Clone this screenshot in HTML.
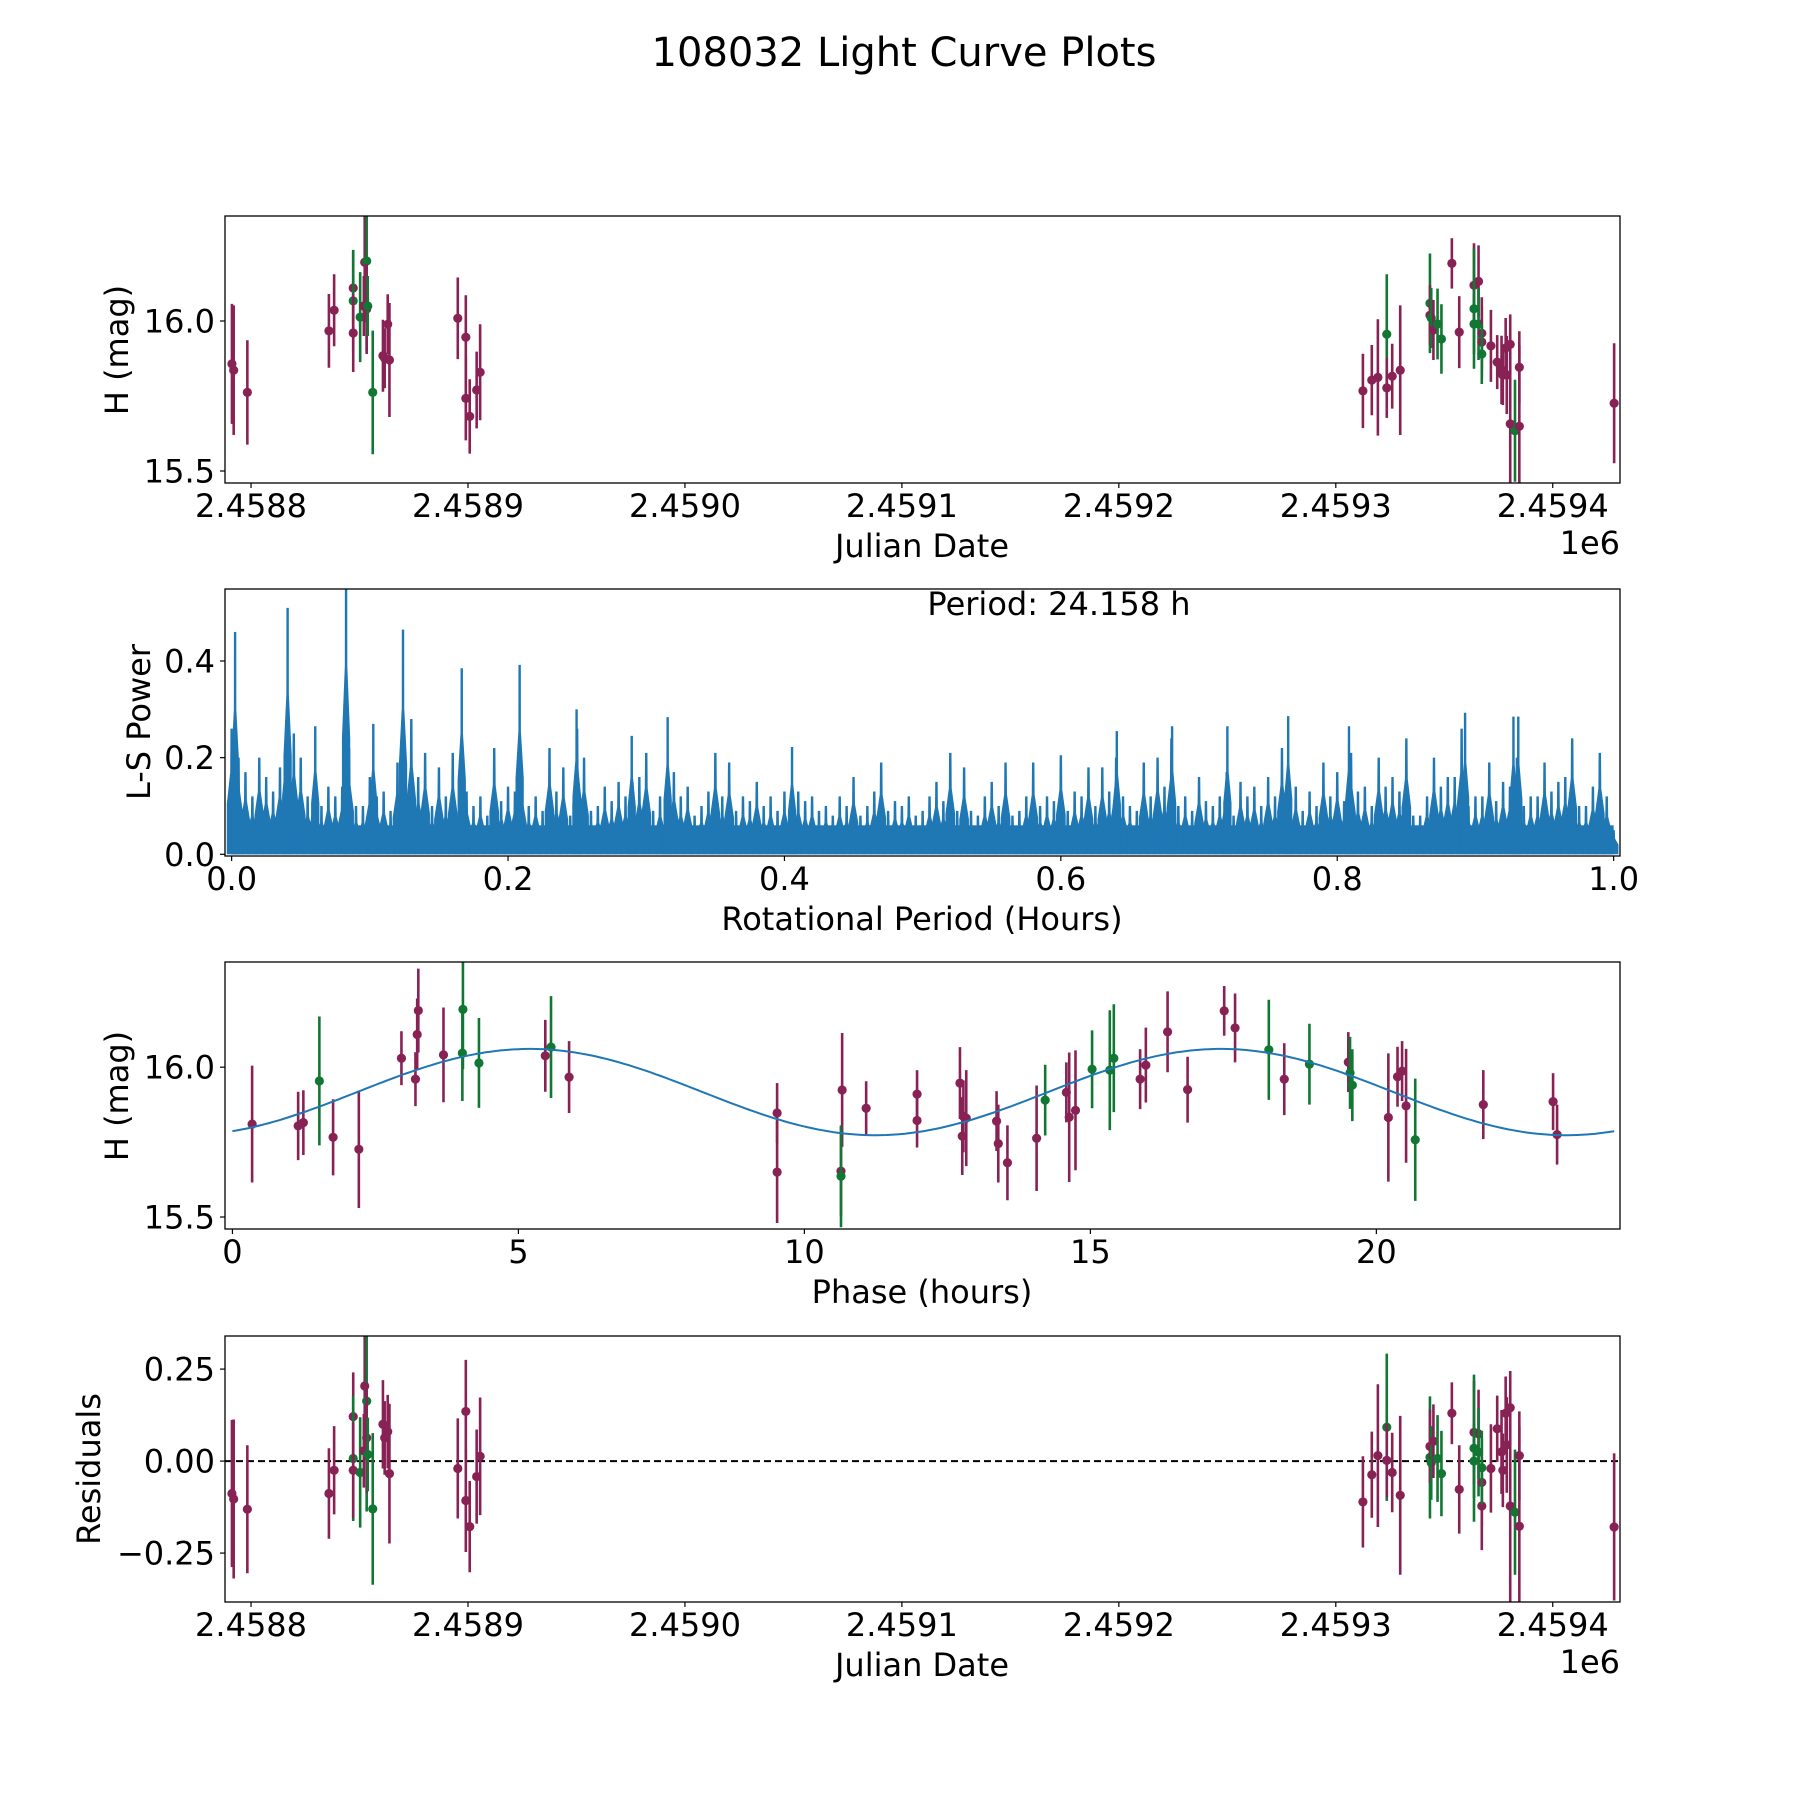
<!DOCTYPE html>
<html><head><meta charset="utf-8"><title>108032 Light Curve Plots</title>
<style>
html,body{margin:0;padding:0;background:#fff;}
svg{display:block;font-family:"DejaVu Sans","Liberation Sans",sans-serif;}
</style></head>
<body>
<svg id="fig" width="1800" height="1800" viewBox="0 0 1800 1800" xmlns="http://www.w3.org/2000/svg">
<rect x="0" y="0" width="1800" height="1800" fill="#fff"/>
<text x="904" y="66" font-size="40" text-anchor="middle" fill="#000">108032 Light Curve Plots</text>
</svg>
<script>
// ---------- data ----------
const jd = [2458791.2,2458792.0,2458798.3,2458835.9,2458838.3,2458847.1,2458847.1,2458847.1,2458850.3,2458852.4,2458853.3,2458852.0,2458853.3,2458853.8,2458856.1,2458860.8,2458861.6,2458863.0,2458863.8,2458895.3,2458899.0,2458899.0,2458900.8,2458904.0,2458905.6,2459312.5,2459316.6,2459319.4,2459323.5,2459323.5,2459326.0,2459329.7,2459343.4,2459343.4,2459344.0,2459345.0,2459346.9,2459348.7,2459353.5,2459356.9,2459363.7,2459365.8,2459363.7,2459363.7,2459365.8,2459367.3,2459367.3,2459367.3,2459371.5,2459374.4,2459376.4,2459377.0,2459378.3,2459378.8,2459380.4,2459380.4,2459382.6,2459384.6,2459384.6,2459428.3];
const mag = [15.857,15.836,15.762,15.967,16.036,16.11,16.067,15.96,16.013,16.196,16.2,16.05,16.04,16.05,15.762,15.884,15.876,15.989,15.87,16.009,15.946,15.742,15.682,15.77,15.829,15.767,15.803,15.812,15.956,15.777,15.816,15.836,16.059,16.019,16.01,15.97,15.99,15.94,16.192,15.963,16.119,16.132,16.041,15.99,15.99,15.959,15.93,15.89,15.917,15.863,15.837,15.82,15.91,15.82,15.922,15.657,15.634,15.649,15.846,15.726];
const magErr = [0.20,0.216,0.174,0.123,0.12,0.12,0.17,0.13,0.15,0.2,0.3,0.1,0.15,0.1,0.206,0.12,0.1,0.1,0.19,0.136,0.14,0.14,0.124,0.128,0.16,0.124,0.117,0.194,0.2,0.1,0.108,0.216,0.166,0.1,0.1,0.1,0.118,0.116,0.084,0.12,0.14,0.12,0.2,0.1,0.12,0.12,0.12,0.1,0.12,0.09,0.114,0.1,0.1,0.13,0.1,0.3,0.17,0.27,0.12,0.2];
const band = ['m','m','m','m','m','m','g','m','g','m','g','m','m','g','g','m','m','m','m','m','m','m','m','m','m','m','m','m','g','m','m','m','g','m','g','m','g','g','m','m','m','m','g','g','g','m','m','g','m','m','m','m','m','m','m','m','g','m','m','m'];
const residual = [-0.088,-0.103,-0.131,-0.088,-0.025,0.121,0.007,-0.025,-0.031,0.204,0.163,0.028,0.063,0.018,-0.13,0.10,0.063,0.080,-0.034,-0.020,0.135,-0.107,-0.178,-0.042,0.013,-0.111,-0.037,0.015,0.092,0.002,-0.031,-0.093,0.01,0.04,-0.005,0.054,0.007,-0.034,0.130,-0.077,0.078,0.074,0.035,0.0,0.024,-0.058,-0.122,-0.018,-0.02,0.088,0.025,-0.025,0.13,0.044,0.145,-0.122,-0.139,-0.177,0.015,-0.179];

const phase = [0.344,1.149,1.24,1.52,1.76,2.21,2.955,3.2,3.23,3.25,3.69,4.03,4.02,4.31,5.47,5.57,5.886,9.523,9.523,10.66,10.64,10.64,11.08,11.97,11.97,12.72,12.76,12.83,12.78,13.36,13.39,13.55,14.06,14.21,14.58,14.63,14.74,15.03,15.34,15.41,15.87,15.97,16.35,16.70,17.34,17.53,18.12,18.39,18.83,19.51,19.54,19.58,20.21,20.37,20.45,20.52,20.68,21.87,23.09,23.16];
const phaseMag = [15.81,15.804,15.815,15.954,15.766,15.726,16.03,15.96,16.109,16.189,16.041,16.193,16.047,16.014,16.038,16.067,15.967,15.847,15.65,15.924,15.653,15.636,15.863,15.91,15.822,15.947,15.77,15.83,15.836,15.82,15.745,15.681,15.763,15.89,15.916,15.833,15.856,15.993,15.99,16.03,15.96,16.007,16.118,15.925,16.188,16.131,16.058,15.96,16.01,16.017,15.981,15.94,15.832,15.968,15.987,15.871,15.758,15.875,15.885,15.775];
const phaseErr = [0.195,0.114,0.108,0.215,0.127,0.196,0.09,0.09,0.12,0.14,0.158,0.2,0.16,0.15,0.12,0.17,0.12,0.1,0.17,0.19,0.15,0.17,0.09,0.08,0.09,0.12,0.13,0.16,0.12,0.1,0.13,0.125,0.176,0.118,0.1,0.216,0.2,0.13,0.2,0.18,0.1,0.125,0.135,0.11,0.083,0.115,0.167,0.12,0.135,0.1,0.12,0.12,0.214,0.1,0.1,0.19,0.204,0.115,0.095,0.1];
const phaseBand = ['m','m','m','g','m','m','m','m','m','m','m','g','g','g','m','g','m','m','m','m','m','g','m','m','m','m','m','m','m','m','m','m','m','g','m','m','m','g','g','g','m','m','m','m','m','m','g','m','g','m','g','g','m','m','m','m','g','m','m','m'];
const modelMean = 15.917, modelAmp = 0.144, modelPeak = 5.2, modelHalfPeriod = 12.079, periodHours = 24.158;

const lsBinMax = [0.26,0.17,0.20,0.13,0.30,0.20,0.15,0.14,0.14,0.10,0.16,0.13,0.19,0.28,0.21,0.18,0.21,0.13,0.12,0.22,0.14,0.16,0.12,0.22,0.18,0.26,0.09,0.14,0.15,0.15,0.21,0.12,0.17,0.14,0.10,0.21,0.19,0.12,0.15,0.12,0.13,0.13,0.12,0.10,0.12,0.16,0.10,0.19,0.11,0.12,0.09,0.15,0.21,0.18,0.08,0.15,0.19,0.09,0.19,0.12,0.205,0.13,0.18,0.18,0.20,0.10,0.19,0.20,0.24,0.12,0.16,0.10,0.17,0.15,0.14,0.16,0.22,0.14,0.13,0.19,0.17,0.21,0.14,0.20,0.16,0.24,0.08,0.20,0.16,0.26,0.12,0.19,0.15,0.20,0.12,0.19,0.15,0.24,0.10,0.21,0.05];
const lsBinMid = [0.20,0.12,0.16,0.18,0.25,0.12,0.10,0.12,0.22,0.10,0.12,0.09,0.14,0.16,0.10,0.12,0.13,0.10,0.08,0.11,0.13,0.10,0.09,0.13,0.08,0.20,0.10,0.11,0.12,0.16,0.09,0.11,0.12,0.08,0.13,0.12,0.09,0.11,0.10,0.09,0.10,0.11,0.09,0.08,0.10,0.08,0.13,0.09,0.10,0.08,0.12,0.11,0.09,0.09,0.12,0.10,0.08,0.12,0.10,0.11,0.09,0.12,0.10,0.13,0.12,0.09,0.12,0.14,0.10,0.09,0.11,0.12,0.08,0.12,0.10,0.12,0.11,0.09,0.10,0.12,0.11,0.13,0.10,0.14,0.13,0.08,0.12,0.14,0.16,0.10,0.12,0.11,0.14,0.10,0.12,0.13,0.16,0.10,0.14,0.12];
const spikeFreq = [0.0025,0.0405,0.0828,0.1240,0.1665,0.2084,0.2496,0.1025,0.0605,0.3155,0.2895,0.6405,0.7645,0.8925,0.9310,0.9275,0.7205,0.6805,0.8085,0.4055];
const spikePower = [0.46,0.51,0.60,0.465,0.385,0.392,0.30,0.27,0.265,0.284,0.245,0.255,0.286,0.293,0.285,0.285,0.265,0.265,0.265,0.222];

// ---------- helpers ----------
const NS = 'http://www.w3.org/2000/svg';
const svg = document.getElementById('fig');
const COL = {m:'#882255', g:'#117733'};
function mk(tag, attrs, parent){
  const e = document.createElementNS(NS, tag);
  for (const k in attrs) e.setAttribute(k, attrs[k]);
  (parent||svg).appendChild(e);
  return e;
}
function lin(d0,d1,r0,r1){ return v => r0 + (v-d0)*(r1-r0)/(d1-d0); }
const L = 225, R = 1620;

function axesFrame(top, bottom, name, clipId){
  const g = mk('g', {});
  
  
  const cp = mk('clipPath', {id: clipId}, g);
  mk('rect', {x:L, y:top, width:R-L, height:bottom-top}, cp);
  return g;
}
function border(g, top, bottom){
  const r = mk('rect', {x:L, y:top, width:R-L, height:bottom-top, fill:'none', stroke:'#000', 'stroke-width':1.3}, g);
  
  
}
function xTicks(g, bottom, vals, labels, sx){
  vals.forEach((v,i)=>{
    const x = sx(v);
    mk('line', {x1:x, x2:x, y1:bottom, y2:bottom+5, stroke:'#000', 'stroke-width':1.2}, g);
    const t = mk('text', {x:x, y:bottom+34, 'font-size':32, 'text-anchor':'middle'}, g);
    t.textContent = labels[i];
    
    
  });
}
function yTicks(g, vals, labels, sy){
  vals.forEach((v,i)=>{
    const y = sy(v);
    mk('line', {x1:L-5, x2:L, y1:y, y2:y, stroke:'#000', 'stroke-width':1.2}, g);
    const t = mk('text', {x:L-10, y:y+11.5, 'font-size':32, 'text-anchor':'end'}, g);
    t.textContent = labels[i];
    
    
  });
}
function label(g, x, y, txt, name, rot){
  const t = mk('text', {x:x, y:y, 'font-size':32, 'text-anchor':'middle'}, g);
  if (rot) t.setAttribute('transform', 'rotate(-90 '+x+' '+y+')');
  t.textContent = txt;
  
  
  return t;
}
function errPoints(g, xs, ys, es, bands, sx, sy, clipId, name){
  const pg = mk('g', {'clip-path':'url(#'+clipId+')'}, g);
  for (let i=0;i<xs.length;i++){
    const x = sx(xs[i]), c = COL[bands[i]];
    const pt = mk('g', {}, pg);
    
    
    mk('line', {x1:x, x2:x, y1:sy(ys[i]+es[i]), y2:sy(ys[i]-es[i]), stroke:c, 'stroke-width':2.6}, pt);
    mk('circle', {cx:x, cy:sy(ys[i]), r:4.6, fill:c}, pt);
  }
}

// ---------- panel 1: light curve ----------
(function(){
  const top=216, bottom=483;
  const sx = lin(2458788.0, 2459431.0, L, R);
  const sy = lin(15.46, 16.35, bottom, top);
  const g = axesFrame(top, bottom, 'light-curve-panel', 'clip1');
  errPoints(g, jd, mag, magErr, band, sx, sy, 'clip1', 'lc-point');
  border(g, top, bottom);
  xTicks(g, bottom, [2458800,2458900,2459000,2459100,2459200,2459300,2459400], ['2.4588','2.4589','2.4590','2.4591','2.4592','2.4593','2.4594'], sx);
  yTicks(g, [15.5,16.0], ['15.5','16.0'], sy);
  label(g, 922, 557, 'Julian Date', 'x-axis-title');
  const o = mk('text', {x:R, y:554, 'font-size':32, 'text-anchor':'end'}, g);
  o.textContent = '1e6';
  
  
  label(g, 128, 350, 'H (mag)', 'y-axis-title', true);
})();

// ---------- panel 2: periodogram ----------
(function(){
  const top=589, bottom=856;
  const sx = lin(-0.0048, 1.0046, L, R);
  const sy = lin(-0.0035, 0.549, bottom, top);
  const g = axesFrame(top, bottom, 'periodogram-panel', 'clip2');
  const pg = mk('g', {'clip-path':'url(#clip2)', fill:'#1f77b4'}, g);
  
  
  // dense floor
  mk('rect', {x:sx(0), y:sy(0.06), width:sx(1)-sx(0), height:sy(0)-sy(0.06)}, pg);
  function tri(f, p, w){
    const d = 'M'+sx(f-w)+','+sy(0)+' L'+sx(f-w)+','+sy(p*0.4)+' L'+sx(f-w*0.3)+','+sy(p*0.65)+' L'+(sx(f)-1.2)+','+sy(p)+' L'+(sx(f)+1.2)+','+sy(p)+' L'+sx(f+w*0.3)+','+sy(p*0.65)+' L'+sx(f+w)+','+sy(p*0.4)+' L'+sx(f+w)+','+sy(0)+'Z';
    return mk('path', {d:d}, pg);
  }
  lsBinMax.forEach((p,i)=>{ tri(i*0.01, p, 0.0035); });
  lsBinMid.forEach((p,i)=>{ tri(i*0.01+0.005, p, 0.0035); });
  spikeFreq.forEach((f,i)=>{
    const s = tri(f, spikePower[i], 0.003);
    
    
  });
  border(g, top, bottom);
  xTicks(g, bottom, [0,0.2,0.4,0.6,0.8,1.0], ['0.0','0.2','0.4','0.6','0.8','1.0'], sx);
  yTicks(g, [0,0.2,0.4], ['0.0','0.2','0.4'], sy);
  label(g, 922, 930, 'Rotational Period (Hours)', 'x-axis-title');
  label(g, 150, 722, 'L-S Power', 'y-axis-title', true);
  label(g, 1059, 615, 'Period: ' + periodHours.toFixed(3) + ' h', 'period-annotation');
})();

// ---------- panel 3: phased ----------
(function(){
  const top=962, bottom=1229;
  const sx = lin(-0.13, 24.26, L, R);
  const sy = lin(15.46, 16.351, bottom, top);
  const g = axesFrame(top, bottom, 'phased-curve-panel', 'clip3');
  errPoints(g, phase, phaseMag, phaseErr, phaseBand, sx, sy, 'clip3', 'phase-point');
  let d = '';
  for (let k=0;k<=300;k++){
    const t = periodHours*k/300;
    const v = modelMean + modelAmp*Math.cos(2*Math.PI*(t-modelPeak)/modelHalfPeriod);
    d += (k?'L':'M') + sx(t).toFixed(1) + ',' + sy(v).toFixed(1);
  }
  const m = mk('path', {d:d, fill:'none', stroke:'#1f77b4', 'stroke-width':2, 'clip-path':'url(#clip3)'}, g);
  
  
  border(g, top, bottom);
  xTicks(g, bottom, [0,5,10,15,20], ['0','5','10','15','20'], sx);
  yTicks(g, [15.5,16.0], ['15.5','16.0'], sy);
  label(g, 922, 1303, 'Phase (hours)', 'x-axis-title');
  label(g, 128, 1096, 'H (mag)', 'y-axis-title', true);
})();

// ---------- panel 4: residuals ----------
(function(){
  const top=1336, bottom=1602;
  const sx = lin(2458788.0, 2459431.0, L, R);
  const sy = lin(-0.383, 0.34, bottom, top);
  const g = axesFrame(top, bottom, 'residuals-panel', 'clip4');
  const z = mk('line', {x1:L, x2:R, y1:sy(0), y2:sy(0), stroke:'#000', 'stroke-width':2, 'stroke-dasharray':'7,4'}, g);
  
  
  errPoints(g, jd, residual, magErr, band, sx, sy, 'clip4', 'residual-point');
  border(g, top, bottom);
  xTicks(g, bottom, [2458800,2458900,2459000,2459100,2459200,2459300,2459400], ['2.4588','2.4589','2.4590','2.4591','2.4592','2.4593','2.4594'], sx);
  yTicks(g, [-0.25,0,0.25], ['\u22120.25','0.00','0.25'], sy);
  label(g, 922, 1676, 'Julian Date', 'x-axis-title');
  const o = mk('text', {x:R, y:1673, 'font-size':32, 'text-anchor':'end'}, g);
  o.textContent = '1e6';
  
  
  label(g, 100, 1469, 'Residuals', 'y-axis-title', true);
})();
</script>
</body></html>
